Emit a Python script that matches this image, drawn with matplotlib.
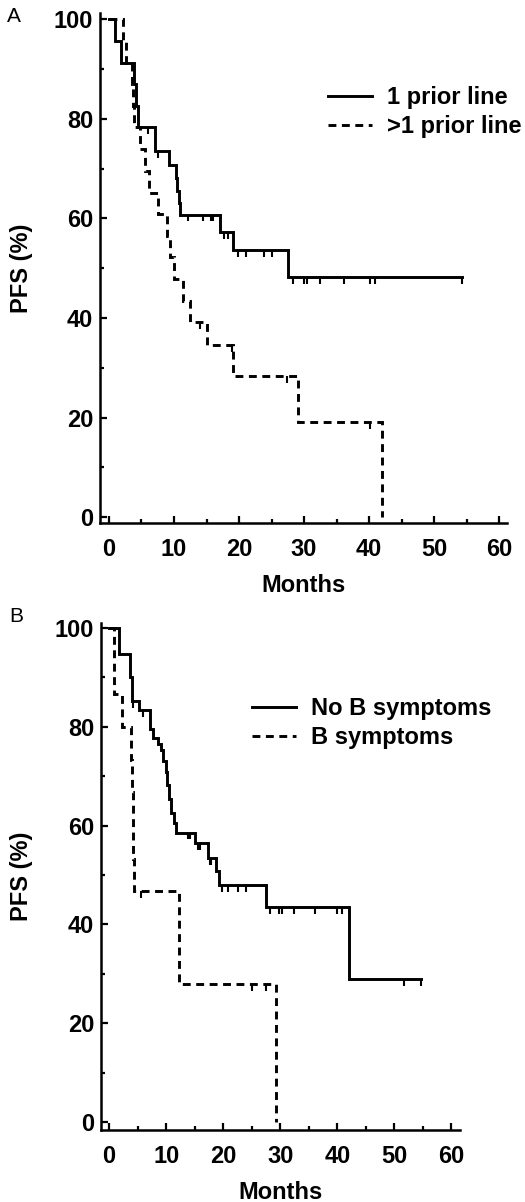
import numpy as np
import matplotlib
matplotlib.use("Agg")
import matplotlib.pyplot as plt
from matplotlib.ticker import MultipleLocator

plt.rcParams['font.family'] = ['Liberation Sans', 'DejaVu Sans']
plt.rcParams['font.weight'] = 'bold'

# ---------------- data ----------------
# Panel A: prior lines of therapy
A_solid_label = "1 prior line"
A_solid_t = [0, 0.9, 1.9, 3.9, 4.2, 4.5, 7.1, 9.2, 10.3, 10.5, 10.7, 10.9, 17.1, 19.1, 27.5]
A_solid_s = [100, 95.7, 91.3, 87.0, 82.6, 78.3, 73.6, 70.8, 68.1, 65.5, 63.1, 60.8, 57.3, 53.6, 48.2]
A_solid_end = 54.3
A_solid_cens = [6.0, 7.5, 12.2, 14.5, 15.7, 16.0, 17.7, 18.3, 19.8, 21.1, 23.8, 25.1,
                28.3, 30.0, 30.5, 32.5, 36.2, 40.2, 40.9, 54.3]

A_dash_label = ">1 prior line"
A_dash_t = [0, 2.2, 2.6, 3.5, 3.7, 3.9, 4.8, 5.6, 6.1, 7.6, 8.9, 9.4, 10.0, 11.4, 12.4, 15.1, 19.1, 29.1, 42.0]
A_dash_s = [100, 95.7, 91.3, 87.0, 82.6, 78.3, 73.9, 69.6, 65.2, 60.9, 56.5, 52.2, 47.8, 43.5, 39.1, 34.5, 28.4, 19.0, 0]
A_dash_end = 42.0
A_dash_cens = [14.0, 18.9, 27.4, 40.2]

# Panel B: B symptoms
B_solid_label = "No B symptoms"
B_solid_t = [0, 1.8, 3.7, 4.0, 5.2, 7.1, 7.7, 8.6, 9.1, 9.5, 9.9, 10.2, 10.5, 10.9, 11.3, 11.8,
             15.1, 17.3, 18.7, 19.3, 27.5, 42.0]
B_solid_s = [100, 94.7, 90.0, 85.3, 83.4, 79.6, 77.8, 76.5, 75.2, 73.0, 70.8, 68.2, 65.3, 62.6, 60.6, 58.6,
             56.4, 53.5, 50.8, 47.9, 43.6, 28.9]
B_solid_end = 54.6
B_solid_cens = [4.2, 5.9, 13.8, 14.2, 15.5, 15.9, 17.6, 17.9, 19.8, 20.9, 22.5, 23.9,
                28.2, 29.8, 30.3, 32.4, 36.0, 40.0, 40.9, 51.7, 54.6]

B_dash_label = "B symptoms"
B_dash_t = [0, 0.9, 2.2, 3.9, 4.0, 4.1, 4.2, 4.3, 12.3, 29.2]
B_dash_s = [100, 86.7, 80.0, 73.3, 66.7, 60.0, 53.3, 46.7, 28.0, 0]
B_dash_end = 29.2
B_dash_cens = [5.6, 25.1, 27.5]

x_ticks = [0, 10, 20, 30, 40, 50, 60]
y_ticks = [0, 20, 40, 60, 80, 100]

# ---------------- figure ----------------
W, H = 525, 1202
fig = plt.figure(figsize=(W / 100, H / 100), dpi=100)

LW = 2.1
DASH = (0, (2.7, 1.9))
FS = 17


def px_axes(l, t, r, b):
    return fig.add_axes([l / W, 1 - b / H, (r - l) / W, (b - t) / H])


def km(ax, t, s, end, cens, ls, label):
    tt = list(t) + [end]
    ss = list(s) + [s[-1]]
    line, = ax.step(tt, ss, where='post', color='black', lw=LW, linestyle=ls,
                    label=label, solid_joinstyle='miter', dash_joinstyle='miter')
    idx = np.searchsorted(np.array(t), np.array(cens), side='right') - 1
    cs = np.array(s)[idx]
    ax.vlines(cens, cs - 1.4, cs, color='black', lw=1.5)
    return line


def style(ax, xlim, ylim):
    ax.set_xlim(*xlim)
    ax.set_ylim(*ylim)
    for sp in ['top', 'right']:
        ax.spines[sp].set_visible(False)
    for sp in ['left', 'bottom']:
        ax.spines[sp].set_linewidth(1.8)
    ax.set_xticks(x_ticks)
    ax.set_yticks(y_ticks)
    ax.xaxis.set_minor_locator(MultipleLocator(5))
    ax.yaxis.set_minor_locator(MultipleLocator(10))
    ax.tick_params(which='major', direction='in', length=5, width=1.6, labelsize=FS)
    ax.tick_params(which='minor', direction='in', length=3, width=1.6)
    ax.tick_params(axis='x', which='major', pad=11)
    ax.tick_params(axis='y', which='major', pad=5)
    for lab in ax.get_xticklabels() + ax.get_yticklabels():
        lab.set_fontweight('bold')
    ax.set_xlabel("Months", fontsize=FS, fontweight='bold', labelpad=9)
    ax.set_ylabel("PFS (%)", fontsize=FS, fontweight='bold')


LEG = dict(frameon=False, borderpad=0, borderaxespad=0, handlelength=1.86,
           handletextpad=0.64, labelspacing=0.25, prop={'size': FS, 'weight': 'bold'})

# Panel A
axA = px_axes(100, 13, 507, 523)
h1 = km(axA, A_solid_t, A_solid_s, A_solid_end, A_solid_cens, '-', A_solid_label)
h2 = km(axA, A_dash_t, A_dash_s, A_dash_end, A_dash_cens, DASH, A_dash_label)
style(axA, (-1.38, 61.2), (-1.2, 101.3))
axA.yaxis.set_label_coords((33 - 100) / 407, 0.5)
axA.legend(handles=[h1, h2], loc='upper left', bbox_to_anchor=(328 / W, 1 - 86 / H),
           bbox_transform=fig.transFigure, **LEG)
fig.text(14 / W, 1 - 16 / H, "A", fontsize=15, fontweight='normal', ha='center', va='center')

# Panel B
axB = px_axes(101, 623, 460, 1130)
h3 = km(axB, B_solid_t, B_solid_s, B_solid_end, B_solid_cens, '-', B_solid_label)
h4 = km(axB, B_dash_t, B_dash_s, B_dash_end, B_dash_cens, DASH, B_dash_label)
style(axB, (-1.43, 61.5), (-1.6, 101.0))
axB.yaxis.set_label_coords((33 - 101) / 359, 0.5)
axB.legend(handles=[h3, h4], loc='upper left', bbox_to_anchor=(252 / W, 1 - 697 / H),
           bbox_transform=fig.transFigure, **LEG)
fig.text(16 / W, 1 - 616 / H, "B", fontsize=15, fontweight='normal', ha='center', va='center')

fig.savefig("out.png", dpi=100)
